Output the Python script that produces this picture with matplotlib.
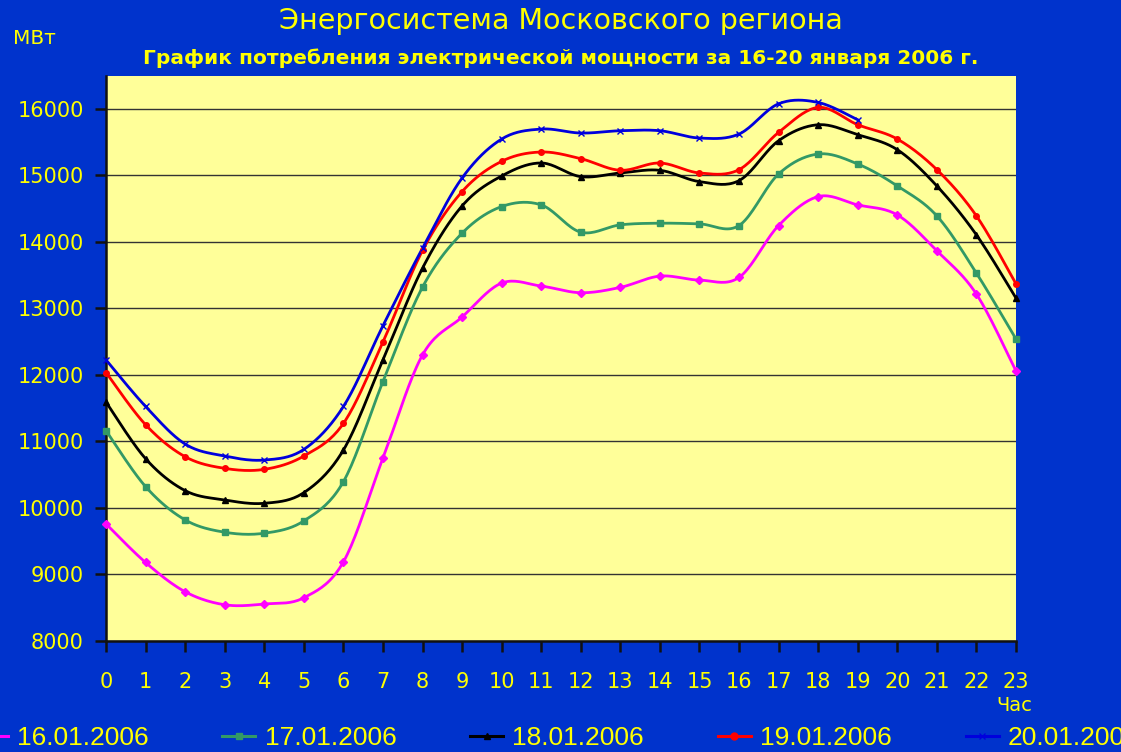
import numpy as np
import matplotlib
matplotlib.use("Agg")
import matplotlib.pyplot as plt

plt.rcParams['font.family'] = ['DejaVu Sans']

hours = list(range(24))
hour_labels = [str(h) for h in hours]

# МВт по часам
d16 = [9760, 9180, 8740, 8545, 8556, 8650, 9190, 10750, 12300, 12870, 13380, 13335,
       13235, 13315, 13485, 13425, 13465, 14245, 14680, 14555, 14405, 13865, 13215, 12060]
d17 = [11160, 10320, 9820, 9635, 9620, 9805, 10395, 11900, 13320, 14130, 14530, 14555,
       14145, 14255, 14280, 14270, 14245, 15020, 15320, 15170, 14840, 14390, 13530, 12540]
d18 = [11590, 10740, 10260, 10120, 10070, 10230, 10870, 12225, 13605, 14540, 14990, 15185,
       14980, 15035, 15075, 14905, 14920, 15520, 15760, 15610, 15385, 14840, 14105, 13155]
d19 = [12035, 11250, 10770, 10595, 10580, 10780, 11270, 12495, 13870, 14755, 15210, 15350,
       15250, 15075, 15185, 15035, 15085, 15645, 16020, 15760, 15545, 15085, 14390, 13370]
d20 = [12225, 11525, 10960, 10780, 10720, 10880, 11525, 12740, 13905, 14960, 15545, 15695,
       15635, 15670, 15670, 15560, 15620, 16075, 16095, 15835]

series = [
    ("16.01.2006", d16, "#FF00FF", "D"),
    ("17.01.2006", d17, "#339966", "s"),
    ("18.01.2006", d18, "#000000", "^"),
    ("19.01.2006", d19, "#FF0000", "o"),
    ("20.01.2006", d20, "#0000DD", "x"),
]

BG = "#0033CC"
PLOT = "#FFFF99"
YEL = "#FFFF00"


def smooth(x, y, n=20):
    # сглаживание как в Excel (Catmull-Rom через Безье)
    x = np.asarray(x, float)
    y = np.asarray(y, float)
    px = np.concatenate([[x[0]], x, [x[-1]]])
    py = np.concatenate([[y[0]], y, [y[-1]]])
    xs, ys = [], []
    t = np.linspace(0, 1, n, endpoint=False)
    for i in range(1, len(px) - 2):
        p0 = np.array([px[i], py[i]])
        p3 = np.array([px[i + 1], py[i + 1]])
        c1 = p0 + (np.array([px[i + 1], py[i + 1]]) - np.array([px[i - 1], py[i - 1]])) / 6
        c2 = p3 - (np.array([px[i + 2], py[i + 2]]) - p0) / 6
        b = ((1 - t) ** 3)[:, None] * p0 + (3 * (1 - t) ** 2 * t)[:, None] * c1 \
            + (3 * (1 - t) * t ** 2)[:, None] * c2 + (t ** 3)[:, None] * p3
        xs.append(b[:, 0])
        ys.append(b[:, 1])
    xs.append([x[-1]])
    ys.append([y[-1]])
    return np.concatenate(xs), np.concatenate(ys)


fig = plt.figure(figsize=(11.21, 7.52), dpi=100, facecolor=BG)
ax = fig.add_axes([0.0946, 0.1476, 0.8117, 0.752])
ax.set_facecolor(PLOT)

for label, vals, color, mk in series:
    xh = hours[:len(vals)]
    sx, sy = smooth(xh, vals)
    ax.plot(sx, sy, color=color, lw=2.0, zorder=3)
    ax.plot(xh, vals, linestyle="none", marker=mk, color=color, ms=4 if mk != "x" else 5,
            mew=1.0, zorder=4, clip_on=False)
    ax.plot([], [], color=color, lw=2.2, marker=mk, ms=5, label=label)

ax.set_xlim(0, 23)
ax.set_ylim(8000, 16500)
ax.set_yticks(range(8000, 16001, 1000))
ax.set_xticks(hours)
ax.set_xticklabels(hour_labels)
ax.grid(axis="y", color="#333333", lw=1)
ax.set_axisbelow(True)
for s in ["top", "right"]:
    ax.spines[s].set_visible(False)
for s in ["left", "bottom"]:
    ax.spines[s].set_color("#111111")
    ax.spines[s].set_linewidth(1.8)
ax.tick_params(colors="#111111", labelcolor=YEL, labelsize=15, length=8, width=1.8)
ax.tick_params(axis="x", pad=14)
ax.tick_params(axis="y", pad=8)

fig.text(0.5, 0.972, "Энергосистема Московского региона", color=YEL, fontsize=20.5,
         ha="center", va="center")
fig.text(0.5, 0.923, "График потребления электрической мощности за 16-20 января 2006 г.",
         color=YEL, fontsize=14.5, fontweight="bold", ha="center", va="center")
fig.text(0.031, 0.949, "МВт", color=YEL, fontsize=14.5, ha="center", va="center")
fig.text(0.905, 0.062, "Час", color=YEL, fontsize=14, ha="center", va="center")

fig.legend(loc="center", bbox_to_anchor=(0.497, 0.018), ncol=5, frameon=False,
           prop={"family": "Liberation Sans", "size": 19}, labelcolor=YEL,
           handlelength=1.25, handletextpad=0.35, columnspacing=2.8, borderaxespad=0)

fig.savefig("out.png", dpi=100, facecolor=BG)
